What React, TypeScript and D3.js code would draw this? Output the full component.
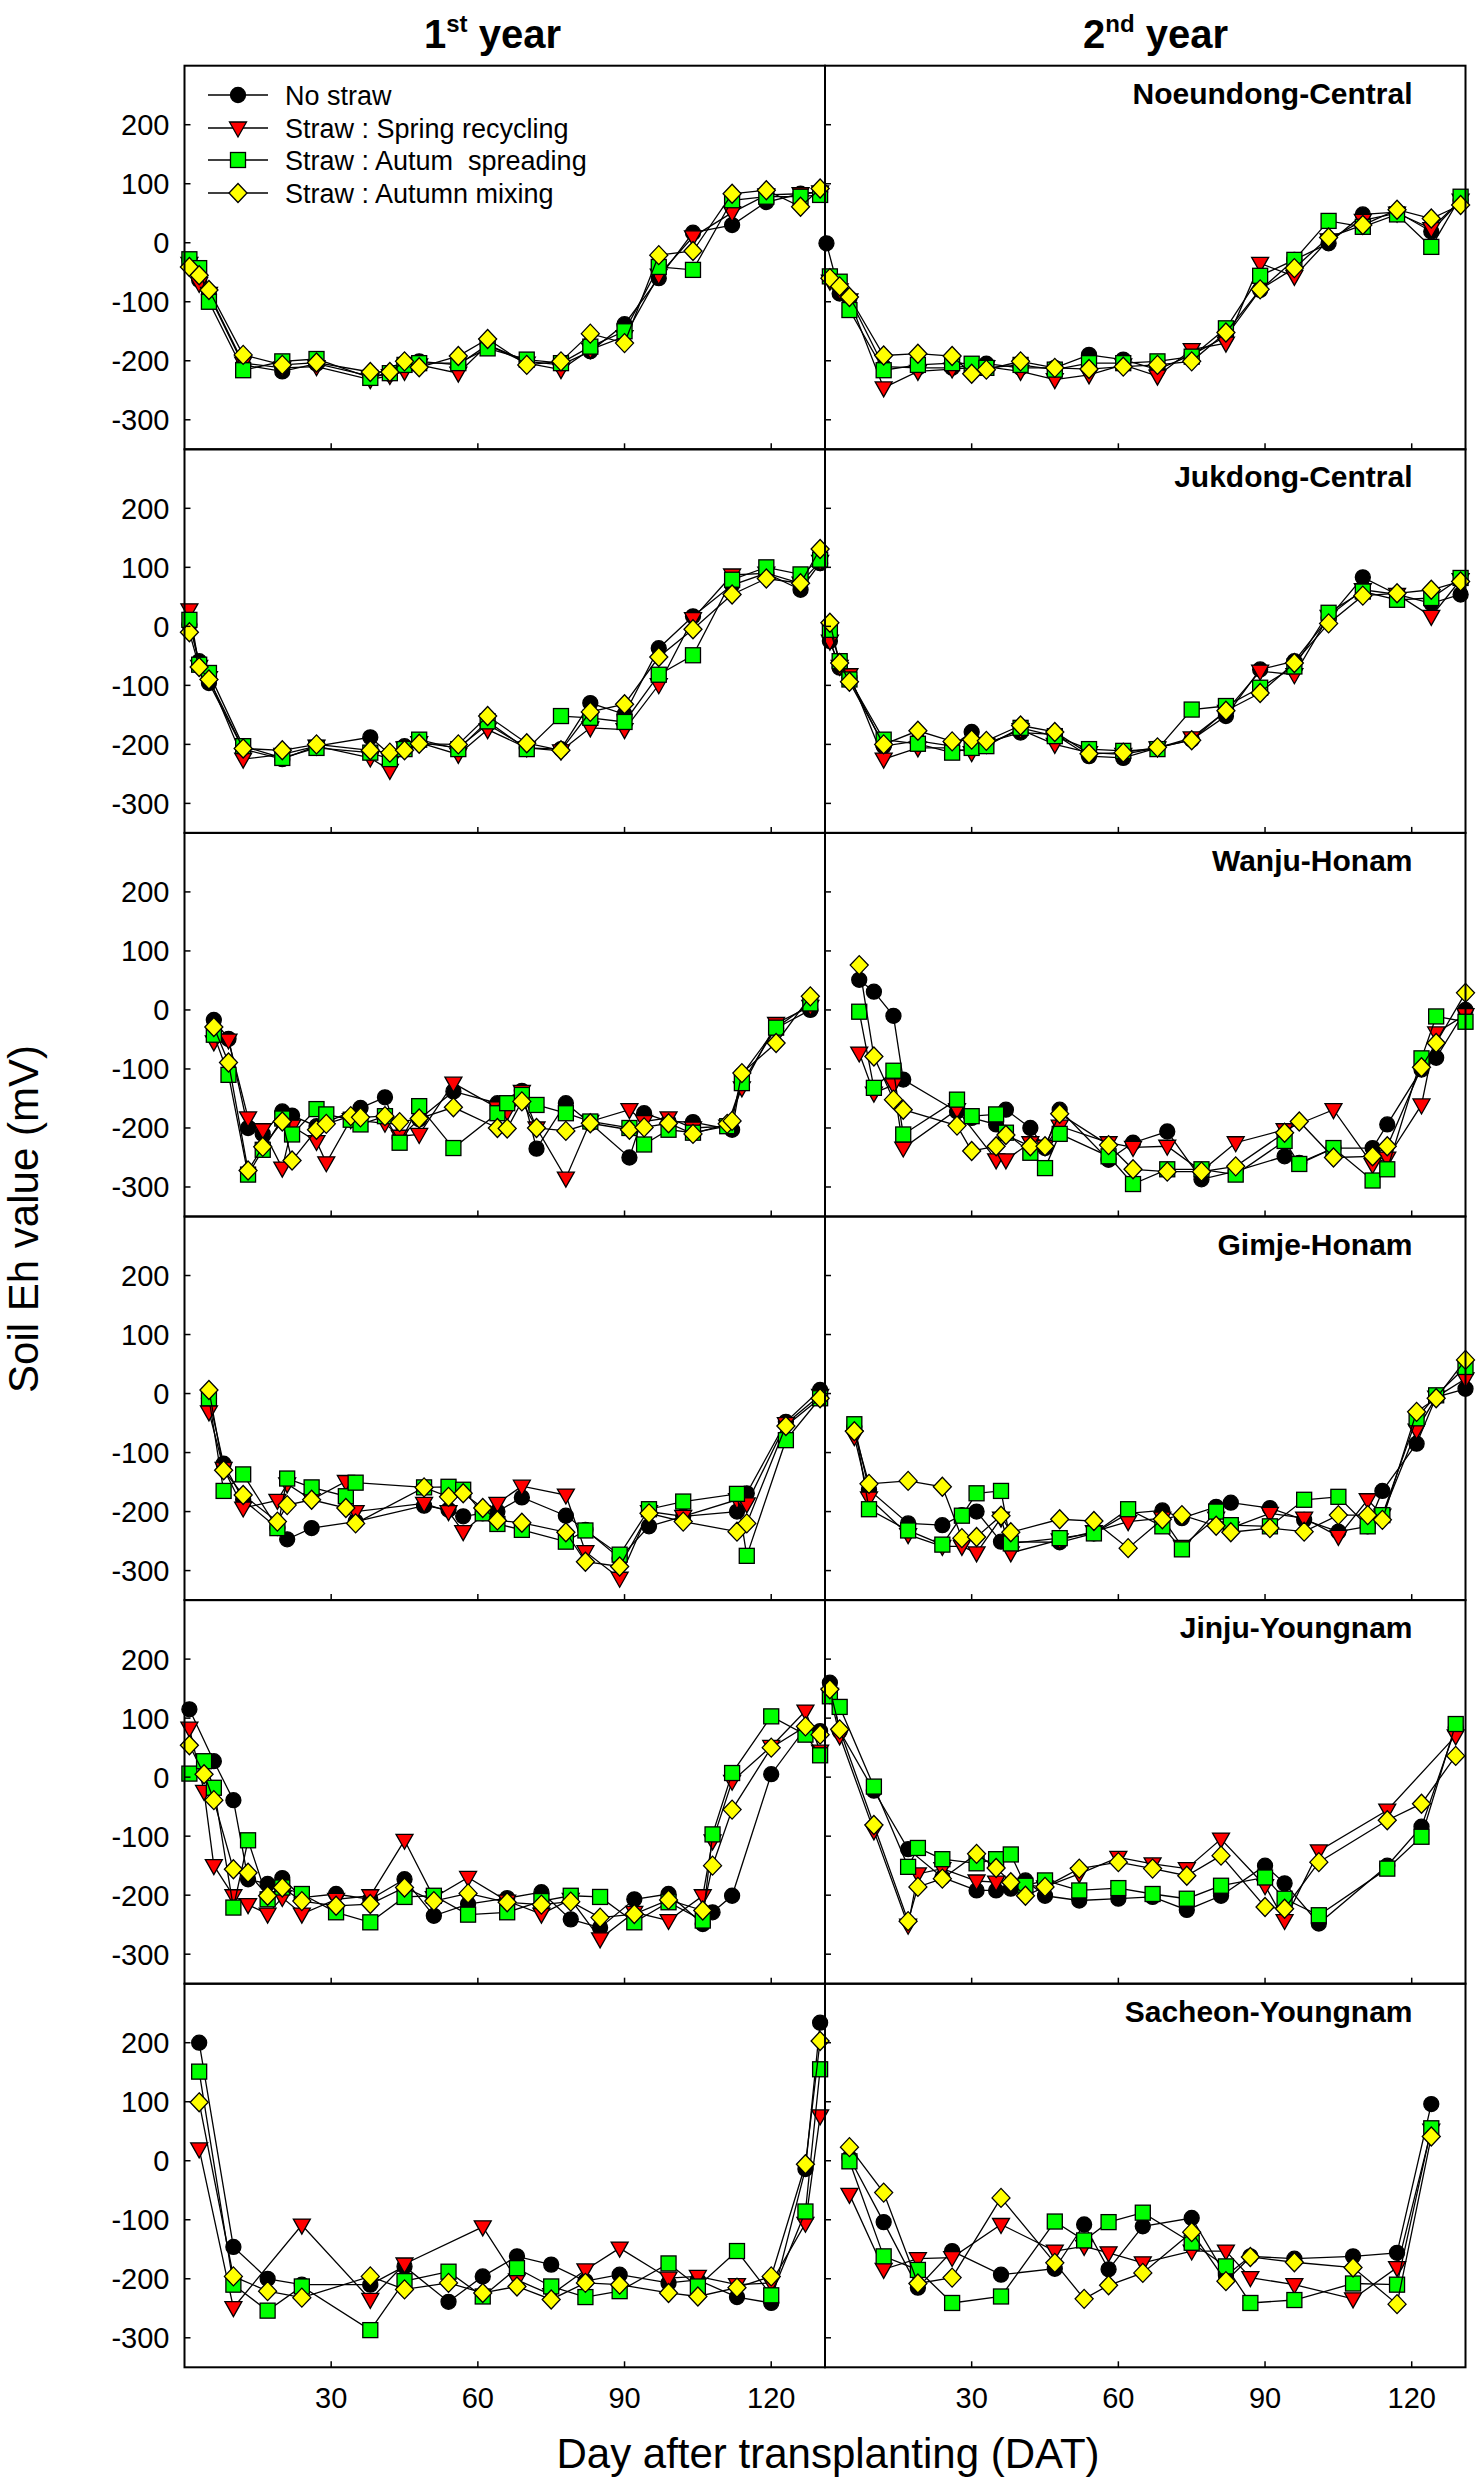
import React from "react";
import * as d3 from "d3";

// ---------- labels ----------
const SERIES_NAMES = ["No straw", "Straw : Spring recycling", "Straw : Autum  spreading", "Straw : Autumn mixing"];
const SITES = ["Noeundong-Central", "Jukdong-Central", "Wanju-Honam", "Gimje-Honam", "Jinju-Youngnam", "Sacheon-Youngnam"];
const X_TICKS = [30, 60, 90, 120];
const Y_TICKS = [200, 100, 0, -100, -200, -300];
const X_DOMAIN = [0, 131];
const Y_DOMAIN = [-350, 300];

// ---------- Noeundong-Central ----------
const NOE1_DAYS = [1, 3, 5, 12, 20, 27, 38, 42, 45, 48, 56, 62, 70, 77, 83, 90, 97, 104, 112, 119, 126, 130];
const NOE1_NO = [-30, -63, -88, -207, -218, -205, -226, -222, -205, -201, -207, -173, -201, -207, -184, -138, -60, 17, 30, 69, 83, 86];
const NOE1_SPRING = [-35, -69, -86, -204, -212, -210, -232, -225, -218, -207, -221, -173, -204, -215, -181, -159, -55, 10, 51, 81, 83, 86];
const NOE1_SPREAD = [-28, -43, -100, -216, -201, -197, -229, -221, -207, -204, -204, -179, -198, -204, -176, -150, -41, -46, 72, 78, 78, 81];
const NOE1_MIX = [-41, -55, -80, -190, -207, -203, -219, -219, -201, -211, -192, -163, -207, -201, -154, -170, -21, -14, 83, 89, 61, 92];

const NOE2_DAYS = [0.3, 1, 3, 5, 12, 19, 26, 30, 33, 40, 47, 54, 61, 68, 75, 82, 89, 96, 103, 110, 117, 124, 130];
const NOE2_NO = [-1, null, -86, -94, -210, -212, -212, null, -205, -212, -212, -190, -198, -215, -190, -159, -80, -29, -1, 48, 52, 19, 72];
const NOE2_SPRING = [null, -65, -80, -97, -246, -218, -214, null, -210, -218, -232, -224, -207, -226, -181, -170, -35, -57, 5, 38, 50, 24, 72];
const NOE2_SPREAD = [null, -57, -66, -114, -216, -207, -204, -205, -212, -207, -215, -204, -204, -201, -193, -145, -56, -29, 37, 27, 48, -7, 78];
const NOE2_MIX = [null, -60, -74, -92, -191, -188, -192, -222, -215, -201, -212, -214, -210, -207, -201, -152, -79, -43, 9, 30, 56, 41, 64];

// ---------- Jukdong-Central ----------
const JUK1_DAYS = [1, 3, 5, 12, 20, 27, 38, 42, 45, 48, 56, 62, 70, 77, 83, 90, 97, 104, 112, 119, 126, 130];
const JUK1_NO = [3, -59, -96, -208, -225, -203, -188, -217, -203, -197, -206, -166, -206, -208, -130, -149, -37, 17, 70, 90, 62, 107];
const JUK1_SPRING = [28, -68, -87, -225, -217, -203, -223, -244, -206, -197, -217, -175, -206, -211, -172, -175, -99, 13, 87, 90, 73, 110];
const JUK1_SPREAD = [11, -65, -79, -203, -223, -206, -214, -225, -208, -192, -208, -161, -208, -152, -155, -162, -82, -49, 79, 100, 88, 113];
const JUK1_MIX = [-10, -69, -90, -207, -210, -200, -210, -214, -210, -199, -200, -152, -198, -210, -145, -132, -52, -5, 54, 81, 73, 131];

const JUK2_DAYS = [1, 3, 5, 12, 19, 26, 30, 33, 40, 47, 54, 61, 68, 75, 82, 89, 96, 103, 110, 117, 124, 130];
const JUK2_NO = [-25, -70, -87, -203, -194, -203, -179, -197, -180, -183, -220, -223, -206, -192, -152, -73, -59, 14, 83, 54, 39, 54];
const JUK2_SPRING = [-25, -68, -82, -225, -206, -206, -214, -200, -175, -200, -214, -217, -206, -189, -144, -76, -82, 17, 62, 54, 17, 79];
const JUK2_SPREAD = [-6, -59, -90, -192, -199, -214, -206, -203, -172, -186, -208, -211, -208, -141, -135, -104, -68, 23, 59, 45, 48, 82];
const JUK2_MIX = [6, -62, -94, -200, -177, -195, -192, -194, -168, -179, -216, -214, -205, -193, -143, -113, -62, 5, 52, 56, 62, 76];

// ---------- Wanju-Honam ----------
const WAN1_DAYS = [6, 9, 13, 16, 20, 22, 27, 29, 34, 36, 41, 44, 48, 55, 64, 66, 69, 72, 78, 83, 91, 94, 99, 104, 111, 112, 114, 121, 128];
const WAN1_NO = [-17, -49, -200, -210, -172, -179, -197, null, null, -166, -148, -217, -185, -138, -158, null, -137, -235, -158, -192, -250, -175, -189, -190, null, -203, -110, -31, 0];
const WAN1_SPRING = [-54, -51, -183, -203, -268, -197, -223, -259, -186, null, -192, -214, -211, -124, -166, -172, -138, -200, -285, -189, -169, -189, -183, -200, -197, null, -132, -23, 6];
const WAN1_SPREAD = [-42, -110, -279, -237, -184, -211, -168, -177, -186, -194, -180, -225, -163, -234, -175, -158, -144, -161, -175, -189, -200, -228, -203, -208, -197, null, -124, -30, 11];
const WAN1_MIX = [-29, -89, -272, -232, -189, -255, -203, -193, -180, -182, -180, -190, -184, -165, -200, -201, -155, -200, -205, -192, -203, -199, -192, -210, -193, -188, -107, -56, 23];

const WAN2_DAYS = [7, 10, 14, 16, 27, 30, 35, 37, 42, 45, 48, 58, 63, 70, 77, 84, 94, 97, 104, 112, 115, 122, 125, 131];
const WAN2_NO = [51, 31, -10, -118, -172, -183, -194, -169, -200, -234, -169, -254, -225, -206, -287, -273, -248, -259, -234, -234, -194, -101, -81, 0];
const WAN2_SPRING = [-73, -141, -127, -234, -169, null, -254, -254, -225, -231, -197, -225, -233, -231, -273, -225, -203, null, -169, -262, -251, -161, -39, -8];
const WAN2_SPREAD = [-3, -132, -103, -211, -152, -180, -177, -208, -242, -268, -210, -248, -295, -270, -270, -279, -222, -261, -234, -289, -270, -82, -11, -20];
const WAN2_MIX = [76, -79, -152, -169, -196, -239, -231, -212, -231, -231, -176, -229, -270, -274, -274, -265, -208, -189, -250, -248, -231, -97, -56, 29];

// ---------- Gimje-Honam ----------
const GIM1_DAYS = [5, 8, 12, 19, 21, 26, 33, 35, 49, 54, 57, 61, 64, 69, 78, 82, 89, 95, 102, 113, 115, 123, 130];
const GIM1_NO = [-8, -119, -180, -228, -247, -228, null, -217, -190, -197, -208, -203, -200, -176, -207, -231, -279, -225, -208, -200, -169, -48, 6];
const GIM1_SPRING = [-31, -127, -194, -181, -153, -180, -149, -200, -186, -200, -234, null, -186, -157, -172, -268, -313, -200, -208, -180, -187, -51, -3];
const GIM1_SPREAD = [-8, -165, -137, -228, -144, -159, -174, -151, -159, -158, -163, -203, -221, -231, -251, -232, -273, -196, -183, -170, -275, -79, -8];
const GIM1_MIX = [6, -130, -172, -217, -189, -180, -194, -220, -159, -175, -169, -194, -215, -219, -235, -285, -293, -203, -217, -234, -220, -55, -8];

const GIM2_DAYS = [6, 9, 17, 24, 28, 31, 36, 38, 48, 55, 62, 69, 73, 80, 83, 91, 98, 105, 111, 114, 121, 125, 131];
const GIM2_NO = [-56, -163, -220, -223, -206, -200, -251, null, -252, -237, -203, -198, -211, -192, -185, -194, -214, -234, -225, -165, -85, -6, 8];
const GIM2_SPRING = [-73, -177, -239, -259, -259, -270, -211, -270, -248, -234, -217, -211, -259, -211, -228, -203, -211, -242, -180, -206, -62, -6, 25];
const GIM2_SPREAD = [-52, -196, -232, -256, -207, -169, -165, -254, -245, -237, -196, -225, -264, -200, -223, -225, -180, -175, -225, -206, -42, -3, 45];
const GIM2_MIX = [-64, -153, -148, -158, -245, -243, -207, -235, -213, -216, -262, -213, -206, -224, -235, -228, -234, -206, -206, -214, -31, -8, 57];

// ---------- Jinju-Youngnam ----------
const JIN1_DAYS = [1, 4, 6, 10, 13, 17, 20, 24, 31, 38, 45, 51, 58, 66, 73, 79, 85, 92, 99, 106, 108, 112, 120, 127, 130];
const JIN1_NO = [115, null, 27, -39, -173, -181, -171, -204, -198, -207, -173, -235, -215, -205, -195, -241, -255, -207, -198, -249, -229, -201, 5, 83, 78];
const JIN1_SPRING = [83, -24, -150, -201, -216, -232, -204, -232, -207, -201, -107, -204, -170, -210, -232, -207, -274, -229, -243, -201, -108, -7, 52, 112, 44];
const JIN1_SPREAD = [6, 27, -18, -221, -107, -207, -187, -198, -229, -246, -203, -201, -233, -229, -210, -201, -203, -246, -212, -243, -97, 7, 103, 72, 37];
const JIN1_MIX = [54, 5, -39, -156, -162, -201, -187, -210, -218, -215, -187, -210, -197, -212, -216, -211, -238, -232, -208, -226, -150, -55, 50, 86, 72];

const JIN2_DAYS = [1, 3, 10, 17, 19, 24, 31, 35, 38, 41, 45, 52, 60, 67, 74, 81, 90, 94, 101, 115, 122, 129];
const JIN2_NO = [160, 78, -23, -122, null, -170, -192, -192, -189, -175, -201, -209, -206, -203, -225, -201, -150, -180, -248, -150, -84, 84];
const JIN2_SPRING = [140, 70, -91, -251, -164, -155, -176, -178, null, null, -186, -164, -136, -147, -155, -105, -184, -243, -125, -56, null, 70];
const JIN2_SPREAD = [137, 119, -16, -152, -120, -139, -146, -139, -131, -184, -175, -192, -188, -198, -206, -184, -170, -206, -234, -155, -101, 90];
const JIN2_MIX = [149, 81, -81, -244, -186, -172, -130, -154, -178, -201, -186, -155, -144, -155, -167, -133, -220, -223, -144, -73, -45, 36];

// ---------- Sacheon-Youngnam ----------
const SAC1_DAYS = [3, 10, 17, 24, 38, 45, 54, 61, 68, 75, 82, 89, 99, 105, 113, 120, 127, 130];
const SAC1_NO = [200, -146, -200, -210, -210, -179, -239, -196, -162, -176, -204, -193, -207, -202, -231, -241, -14, 234];
const SAC1_SPRING = [20, -249, null, -109, -235, -175, null, -112, -202, -227, -185, -148, -199, -196, -210, -207, -106, 76];
const SAC1_SPREAD = [151, -210, -254, -213, -287, -204, -188, -230, -182, -213, -231, -221, -174, -213, -153, -228, -86, 155];
const SAC1_MIX = [99, -196, -221, -232, -196, -218, -207, -224, -213, -235, -207, -210, -224, -230, -215, -196, -6, 203];

const SAC2_DAYS = [5, 12, 19, 26, 36, 47, 53, 58, 65, 75, 82, 87, 96, 108, 117, 124];
const SAC2_NO = [5, -104, -215, -153, -193, -183, -108, -184, -111, -97, -195, -162, -166, -162, -156, 96];
const SAC2_SPRING = [-57, -184, -166, -164, -108, -153, -145, -156, -173, -153, -153, -198, -210, -234, -181, 52];
const SAC2_SPREAD = [-1, -162, -185, -241, -230, -103, -135, -104, -88, -139, -179, -241, -236, -208, -210, 55];
const SAC2_MIX = [23, -54, -208, -198, -63, -173, -234, -211, -190, -121, -204, -163, -172, -181, -243, 41];

type Panel = { row: number; col: number; days: number[]; series: (number | null)[][] };

const PANELS: Panel[] = [
  { row: 0, col: 0, days: NOE1_DAYS, series: [NOE1_NO, NOE1_SPRING, NOE1_SPREAD, NOE1_MIX] },
  { row: 0, col: 1, days: NOE2_DAYS, series: [NOE2_NO, NOE2_SPRING, NOE2_SPREAD, NOE2_MIX] },
  { row: 1, col: 0, days: JUK1_DAYS, series: [JUK1_NO, JUK1_SPRING, JUK1_SPREAD, JUK1_MIX] },
  { row: 1, col: 1, days: JUK2_DAYS, series: [JUK2_NO, JUK2_SPRING, JUK2_SPREAD, JUK2_MIX] },
  { row: 2, col: 0, days: WAN1_DAYS, series: [WAN1_NO, WAN1_SPRING, WAN1_SPREAD, WAN1_MIX] },
  { row: 2, col: 1, days: WAN2_DAYS, series: [WAN2_NO, WAN2_SPRING, WAN2_SPREAD, WAN2_MIX] },
  { row: 3, col: 0, days: GIM1_DAYS, series: [GIM1_NO, GIM1_SPRING, GIM1_SPREAD, GIM1_MIX] },
  { row: 3, col: 1, days: GIM2_DAYS, series: [GIM2_NO, GIM2_SPRING, GIM2_SPREAD, GIM2_MIX] },
  { row: 4, col: 0, days: JIN1_DAYS, series: [JIN1_NO, JIN1_SPRING, JIN1_SPREAD, JIN1_MIX] },
  { row: 4, col: 1, days: JIN2_DAYS, series: [JIN2_NO, JIN2_SPRING, JIN2_SPREAD, JIN2_MIX] },
  { row: 5, col: 0, days: SAC1_DAYS, series: [SAC1_NO, SAC1_SPRING, SAC1_SPREAD, SAC1_MIX] },
  { row: 5, col: 1, days: SAC2_DAYS, series: [SAC2_NO, SAC2_SPRING, SAC2_SPREAD, SAC2_MIX] },
];

// ---------- layout ----------
const W = 1477;
const H = 2482;
const LEFT_X = 184.5;
const PANEL_W = 640.5;
const TOP_Y = 65.7;
const PANEL_H = 383.6;
const FONT = "'Liberation Sans', Arial, Helvetica, sans-serif";
const FILLS = ["#000000", "#ff0000", "#00ff00", "#ffff00"];

function Marker({ kind, x, y }: { kind: number; x: number; y: number }) {
  const common = { stroke: "#000", strokeWidth: 1.3 } as const;
  if (kind === 0) return <circle cx={x} cy={y} r={7.5} fill={FILLS[0]} {...common} />;
  if (kind === 1)
    return <path d={`M${x - 8.5},${y - 6}L${x + 8.5},${y - 6}L${x},${y + 9}Z`} fill={FILLS[1]} {...common} />;
  if (kind === 2) return <rect x={x - 7.5} y={y - 7.5} width={15} height={15} fill={FILLS[2]} {...common} />;
  return <path d={`M${x},${y - 9.5}L${x + 9},${y}L${x},${y + 9.5}L${x - 9},${y}Z`} fill={FILLS[3]} {...common} />;
}

function PanelView({ p }: { p: Panel }) {
  const x0 = LEFT_X + p.col * PANEL_W;
  const y0 = TOP_Y + p.row * PANEL_H;
  const xs = d3.scaleLinear().domain(X_DOMAIN).range([x0, x0 + PANEL_W]);
  const ys = d3.scaleLinear().domain(Y_DOMAIN).range([y0 + PANEL_H, y0]);
  const line = d3
    .line<[number, number]>()
    .x((d) => xs(d[0]))
    .y((d) => ys(d[1]));
  const site = SITES[p.row];
  return (
    <g>
      {p.series.map((vals, si) => {
        const pts: [number, number][] = [];
        vals.forEach((v, i) => {
          if (v !== null && v !== undefined) pts.push([p.days[i], v]);
        });
        return (
          <g key={si}>
            <path d={line(pts) || ""} fill="none" stroke="#000" strokeWidth={1.3} />
            {pts.map((d, i) => (
              <Marker key={i} kind={si} x={xs(d[0])} y={ys(d[1])} />
            ))}
          </g>
        );
      })}
      <rect x={x0} y={y0} width={PANEL_W} height={PANEL_H} fill="none" stroke="#000" strokeWidth={2} />
      {X_TICKS.map((t) => (
        <line key={"xt" + t} x1={xs(t)} x2={xs(t)} y1={y0 + PANEL_H} y2={y0 + PANEL_H - 6} stroke="#000" strokeWidth={1.5} />
      ))}
      {Y_TICKS.map((t) => (
        <line key={"yt" + t} x1={x0} x2={x0 + 6} y1={ys(t)} y2={ys(t)} stroke="#000" strokeWidth={1.5} />
      ))}
      {p.col === 0 &&
        Y_TICKS.map((t) => (
          <text key={"yl" + t} x={x0 - 15} y={ys(t)} dy="0.36em" textAnchor="end" fontSize={29} fontFamily={FONT}>
            {t}
          </text>
        ))}
      {p.row === 5 &&
        X_TICKS.map((t) => (
          <text key={"xl" + t} x={xs(t)} y={y0 + PANEL_H + 41} textAnchor="middle" fontSize={29} fontFamily={FONT}>
            {t}
          </text>
        ))}
      {p.col === 1 && (
        <text x={x0 + PANEL_W - 53} y={y0 + 38} textAnchor="end" fontSize={30} fontWeight="bold" fontFamily={FONT}>
          {site}
        </text>
      )}
    </g>
  );
}

function Legend() {
  const rows = [95, 128, 160, 193];
  return (
    <g>
      {SERIES_NAMES.map((name, i) => (
        <g key={name}>
          <line x1={208} x2={268} y1={rows[i]} y2={rows[i]} stroke="#000" strokeWidth={1.3} />
          <Marker kind={i} x={238} y={rows[i]} />
          <text x={285} y={rows[i]} dy="0.36em" fontSize={27} fontFamily={FONT} style={{ whiteSpace: "pre" }}>
            {name}
          </text>
        </g>
      ))}
    </g>
  );
}

export default function App() {
  return (
    <svg
      width={W}
      height={H}
      viewBox={`0 0 ${W} ${H}`}
      style={{ position: "absolute", left: 0, top: 0, background: "#fff" }}
    >
      <rect x={0} y={0} width={W} height={H} fill="#fff" />
      {PANELS.map((p, i) => (
        <PanelView key={i} p={p} />
      ))}
      <Legend />
      <text x={424} y={48} fontSize={40} fontWeight="bold" fontFamily={FONT}>
        1<tspan fontSize={24} dy={-16}>st</tspan>
        <tspan dy={16}> year</tspan>
      </text>
      <text x={1083} y={48} fontSize={40} fontWeight="bold" fontFamily={FONT}>
        2<tspan fontSize={24} dy={-16}>nd</tspan>
        <tspan dy={16}> year</tspan>
      </text>
      <text x={828} y={2468} textAnchor="middle" fontSize={42} fontFamily={FONT}>
        Day after transplanting (DAT)
      </text>
      <text
        transform={`translate(38, ${1219}) rotate(-90)`}
        textAnchor="middle"
        fontSize={42}
        fontFamily={FONT}
      >
        Soil Eh value (mV)
      </text>
    </svg>
  );
}
